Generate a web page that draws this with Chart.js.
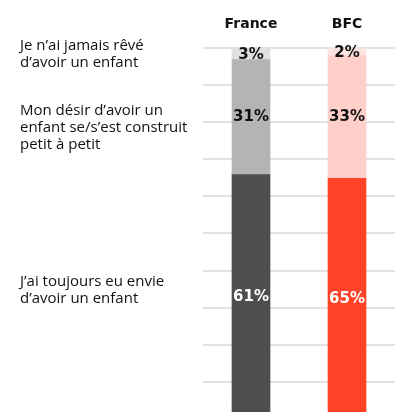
<!DOCTYPE html>
<html>
<head>
<meta charset="utf-8">
<script src="https://cdn.jsdelivr.net/npm/chart.js@4"></script>
<style>
  html, body { margin: 0; padding: 0; background: #fff; overflow: hidden; }
  #wrap { width: 400px; height: 430px; }
</style>
</head>
<body>
<div id="wrap"><canvas id="myChart"></canvas></div>
<script>
// data
const categories = ['France', 'BFC']
const jamais = [3, 2]
const petitAPetit = [31, 33]
const toujours = [61, 65]
const reste = [5, 0]   // part of the dark bar left unlabelled

const seriesNames = [
  ['Je n’ai jamais rêvé', 'd’avoir un enfant'],
  ['Mon désir d’avoir un', 'enfant se/s’est construit', 'petit à petit'],
  ['J’ai toujours eu envie', 'd’avoir un enfant']
]

const yTicks = [0, 10, 20, 30, 40, 50, 60, 70, 80, 90, 100]

// value labels in the middle of each segment + series names on the left
const labelsPlugin = {
  id: 'labels',
  afterDatasetsDraw(chart) {
    const ctx = chart.ctx
    const area = chart.chartArea
    ctx.save()
    ctx.textAlign = 'center'
    ctx.textBaseline = 'middle'
    ctx.font = 'bold 15px "DejaVu Sans"'
    chart.data.datasets.forEach((ds, i) => {
      if (!ds.showValue) return
      chart.getDatasetMeta(i).data.forEach((bar, j) => {
        let top = bar.base
        let bottom = ds.fillToEnd ? area.bottom : bar.y
        ctx.fillStyle = ds.valueColor
        ctx.fillText(ds.data[j] + '%', bar.x, (top + bottom) / 2 + 1)
      })
    })

    // left hand names, centred on France's segments
    const offsets = [0, 11, -6]
    ctx.textAlign = 'left'
    ctx.font = '15px "Open Sans"'
    ctx.fillStyle = '#111'
    seriesNames.forEach((lines, i) => {
      let bar = chart.getDatasetMeta(i).data[0]
      let bottom = i == 2 ? area.bottom : bar.y
      let mid = (bar.base + bottom) / 2 + offsets[i]
      let lh = 17
      lines.forEach((t, k) => {
        ctx.fillText(t, 20, mid + (k - (lines.length - 1) / 2) * lh)
      })
    })
    ctx.restore()
  }
}

let ctx = document.getElementById('myChart').getContext('2d')

let myChart = new Chart(ctx, {
  type: 'bar',
  data: {
    labels: categories,
    datasets: [{
      label: 'jamais',
      data: jamais,
      backgroundColor: ['#e0e0e0', '#fde4e1'],
      showValue: true,
      valueColor: '#111'
    }, {
      label: 'petit a petit',
      data: petitAPetit,
      backgroundColor: ['#b4b4b4', '#ffd0ca'],
      showValue: true,
      valueColor: '#111'
    }, {
      label: 'toujours',
      data: toujours,
      backgroundColor: ['#4e4e4e', '#ff4329'],
      showValue: true,
      fillToEnd: true,
      valueColor: '#fff'
    }, {
      label: 'reste',
      data: reste,
      backgroundColor: ['#4e4e4e', '#ff4329']
    }]
  },
  options: {
    responsive: true,
    maintainAspectRatio: false,
    animation: false,
    barThickness: 38,
    layout: { padding: { left: 203, right: 5, top: 0, bottom: 11 } },
    plugins: {
      legend: { display: false },
      tooltip: { enabled: false }
    },
    scales: {
      x: {
        position: 'top',
        stacked: true,
        grid: { display: false, drawTicks: false },
        border: { display: false },
        ticks: {
          color: '#111',
          padding: 15.5,
          font: { family: 'DejaVu Sans', size: 14, weight: 'bold' }
        }
      },
      y: {
        stacked: true,
        reverse: true,
        min: 0,
        max: 100,
        afterBuildTicks: axis => { axis.ticks = yTicks.map(v => ({ value: v })) },
        grid: { color: '#e2e2e2', lineWidth: 2, drawTicks: false },
        border: { display: false },
        ticks: { display: false }
      }
    }
  },
  plugins: [labelsPlugin]
})
</script>
</body>
</html>
